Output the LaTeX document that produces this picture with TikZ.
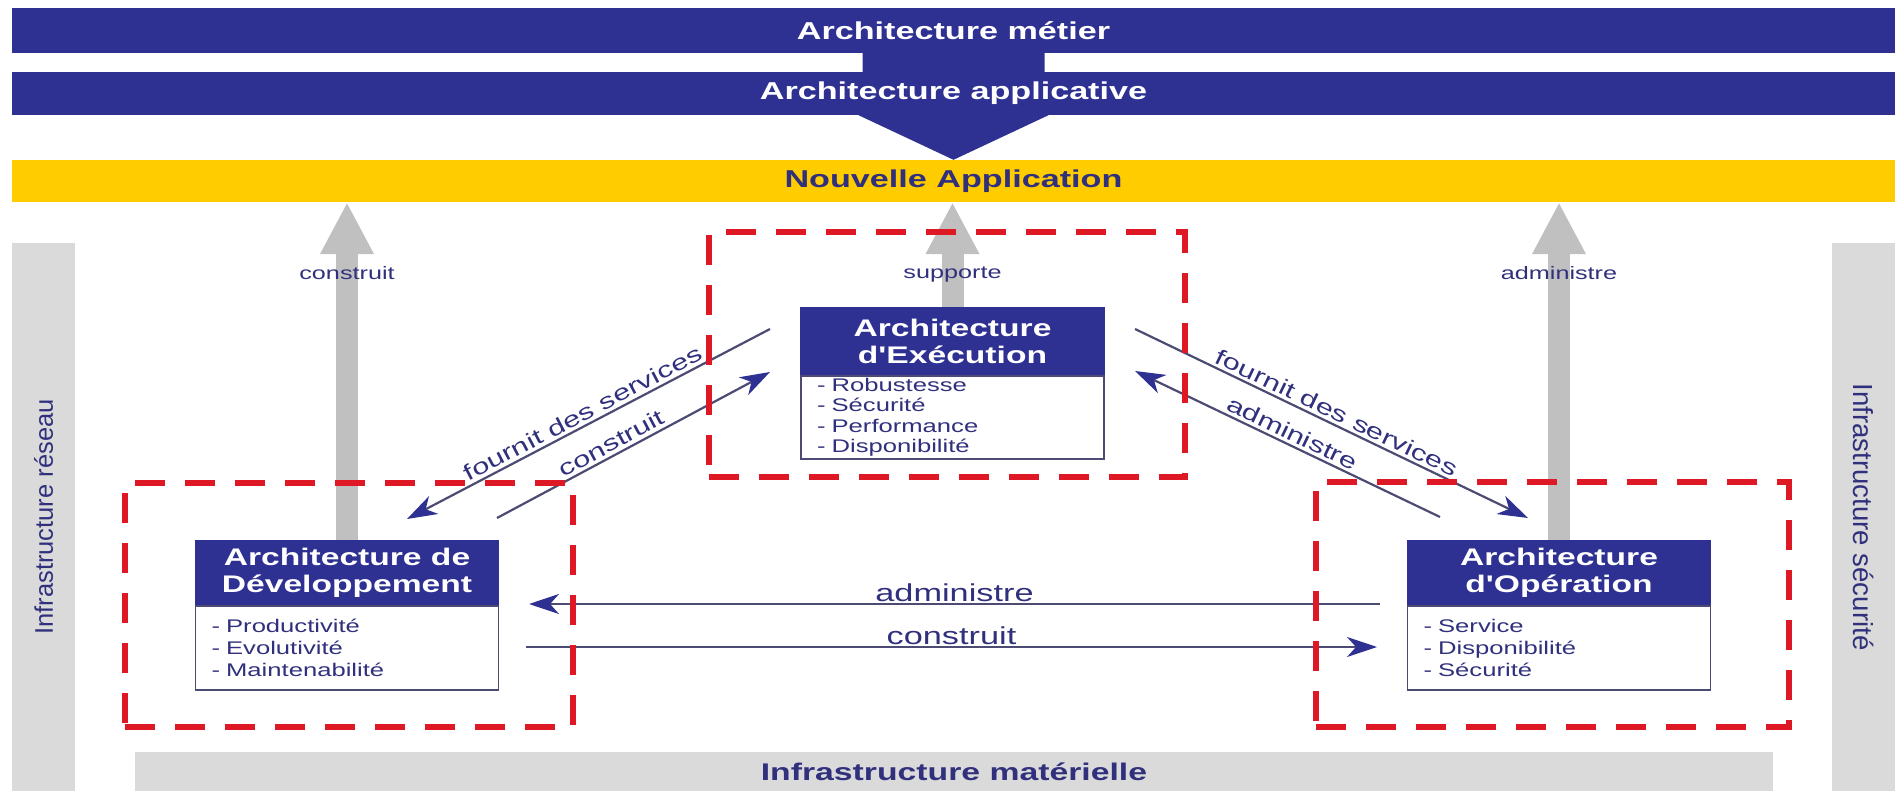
\documentclass[tikz,border=0pt]{standalone}
\usepackage{fontspec}
\setmainfont{Liberation Sans}
\newfontfamily\wfont[FakeStretch=1.4]{Liberation Sans}
\usepackage{tikz}
\usetikzlibrary{positioning, shapes, arrows.meta, calc, backgrounds}

\definecolor{archblue}{RGB}{46,49,146}
\definecolor{archyellow}{RGB}{255,204,0}
\definecolor{archgray}{RGB}{218,218,218}
\definecolor{arrowgray}{RGB}{192,192,192}
\definecolor{zonered}{RGB}{222,24,36}
\definecolor{linenavy}{RGB}{75,75,115}
\definecolor{textnavy}{RGB}{48,48,125}

\begin{document}
\begin{tikzpicture}[x=1pt, y=-1pt,
  bar/.style={rectangle, fill=archblue, text=white, minimum width=1883pt, inner sep=0pt,
    font=\wfont\bfseries\fontsize{24.4}{26}\selectfont},
  infra/.style={rectangle, fill=archgray, text=textnavy, inner sep=0pt},
  head/.style={rectangle, fill=archblue, draw=archblue, line width=1.5pt, text=white, align=center,
    minimum width=303pt, minimum height=64pt, inner sep=2pt,
    font=\wfont\bfseries\fontsize{24}{27}\selectfont},
  body/.style={rectangle, fill=white, draw=linenavy, line width=1.8pt, text=textnavy, align=left,
    text width=271pt, inner xsep=16pt, inner ysep=1pt, minimum height=84pt,
    font=\wfont\fontsize{18.3}{22}\selectfont},
  zone/.style={rectangle, draw=zonered, line width=5.5pt, dash pattern=on 30pt off 20pt, inner sep=0pt},
  support/.style={draw=arrowgray, line width=22pt, -{Triangle[length=52pt, width=50pt]}},
  flow/.style={draw=linenavy, line width=2.2pt, -{Stealth[length=30pt, width=20pt, inset=9pt, color=archblue]}},
  glabel/.style={text=textnavy, font=\wfont\fontsize{18}{20}\selectfont},
  dlabel/.style={text=textnavy, inner sep=3pt, font=\wfont\fontsize{22}{24}\selectfont},
  hlabel/.style={text=textnavy, inner sep=1pt, font=\wfont\fontsize{24.5}{26}\selectfont}]

\useasboundingbox (0,0) rectangle (1895,791);

% Couches du haut
\node[bar, minimum height=45pt] (metier) at (953.5,30.5) {Architecture métier};
\node[bar, minimum height=43pt] (applicative) at (953.5,93.5) {Architecture applicative};
\node[bar, fill=archyellow, text=textnavy, minimum height=42pt] (nouvelle) at (953.5,181) {Nouvelle Application};

\begin{scope}[on background layer]
\fill[archblue] ($(metier.center)+(-91,0)$) -- ($(metier.center)+(91,0)$)
  -- ($(applicative.south)+(91,0)$) -- ($(applicative.south)+(95,0)$) -- (nouvelle.north)
  -- ($(applicative.south)+(-95,0)$) -- ($(applicative.south)+(-91,0)$) -- cycle;
\end{scope}

% Infrastructures
\node[infra, minimum width=548pt, minimum height=63pt, rotate=90,
  font=\fontsize{25.5}{27}\selectfont] (reseau) at (43.5,517) {Infrastructure réseau};
\node[infra, minimum width=548pt, minimum height=63pt, rotate=-90,
  font=\fontsize{27.6}{29}\selectfont] (securite) at (1863.5,517) {Infrastructure sécurité};
\node[infra, minimum width=1638pt, minimum height=39pt,
  font=\wfont\bfseries\fontsize{24.1}{26}\selectfont] (materielle) at (954,771.5) {Infrastructure matérielle};

% Architecture d'Execution
\node[head, minimum height=66pt] (execHead) at (952.5,341) {Architecture\\d'Exécution};
\node[body, minimum height=83pt, below=0pt of execHead, font=\wfont\fontsize{18.3}{20.5}\selectfont] (execBody)
  {- Robustesse\\- Sécurité\\- Performance\\- Disponibilité};

% Architecture de Developpement
\node[head] (devHead) at (347,572.5) {Architecture de\\Développement};
\node[body, below=0pt of devHead] (devBody) {- Productivité\\- Evolutivité\\- Maintenabilité};

% Architecture d'Operation
\node[head] (opHead) at (1559,572.5) {Architecture\\d'Opération};
\node[body, below=0pt of opHead] (opBody) {- Service\\- Disponibilité\\- Sécurité};

% Vers la nouvelle application
\draw[support] (devHead.north) -- (devHead.north |- nouvelle.south) node[pos=0.79, glabel] {construit};
\draw[support] (execHead.north) -- (execHead.north |- nouvelle.south) node[pos=0.31, glabel] {supporte};
\draw[support] (opHead.north) -- (opHead.north |- nouvelle.south) node[pos=0.79, glabel] {administre};

% Relations
\coordinate (execOutL) at (770,329);
\coordinate (devIn) at (407,519);
\coordinate (devOut) at (497,518);
\coordinate (execInL) at (770,372);
\coordinate (execOutR) at (1135,329);
\coordinate (opIn) at (1528,518);
\coordinate (opOut) at (1440,517);
\coordinate (execInR) at (1135,371);
\coordinate (opOutH) at (1380,604);
\coordinate (devInH) at (529,604);
\coordinate (devOutH) at (526,647);
\coordinate (opInH) at (1377,647);

\draw[flow] (execOutL) -- node[sloped, above, dlabel] {fournit des services} (devIn);
\draw[flow] (devOut) -- node[sloped, above, dlabel, pos=0.44] {construit} (execInL);
\draw[flow] (execOutR) -- node[sloped, above, dlabel] {fournit des services} (opIn);
\draw[flow] (opOut) -- node[sloped, above, dlabel] {administre} (execInR);
\draw[flow] (opOutH) -- node[above, hlabel] {administre} (devInH);
\draw[flow] (devOutH) -- node[above, hlabel] {construit} (opInH);

% Zones
\node[zone, minimum width=476pt, minimum height=245pt] (execZone) at (947,354.5) {};
\node[zone, minimum width=448pt, minimum height=244pt] (devZone) at (349,605) {};
\node[zone, minimum width=473pt, minimum height=245pt] (opZone) at (1552.5,604.5) {};

\end{tikzpicture}
\end{document}
